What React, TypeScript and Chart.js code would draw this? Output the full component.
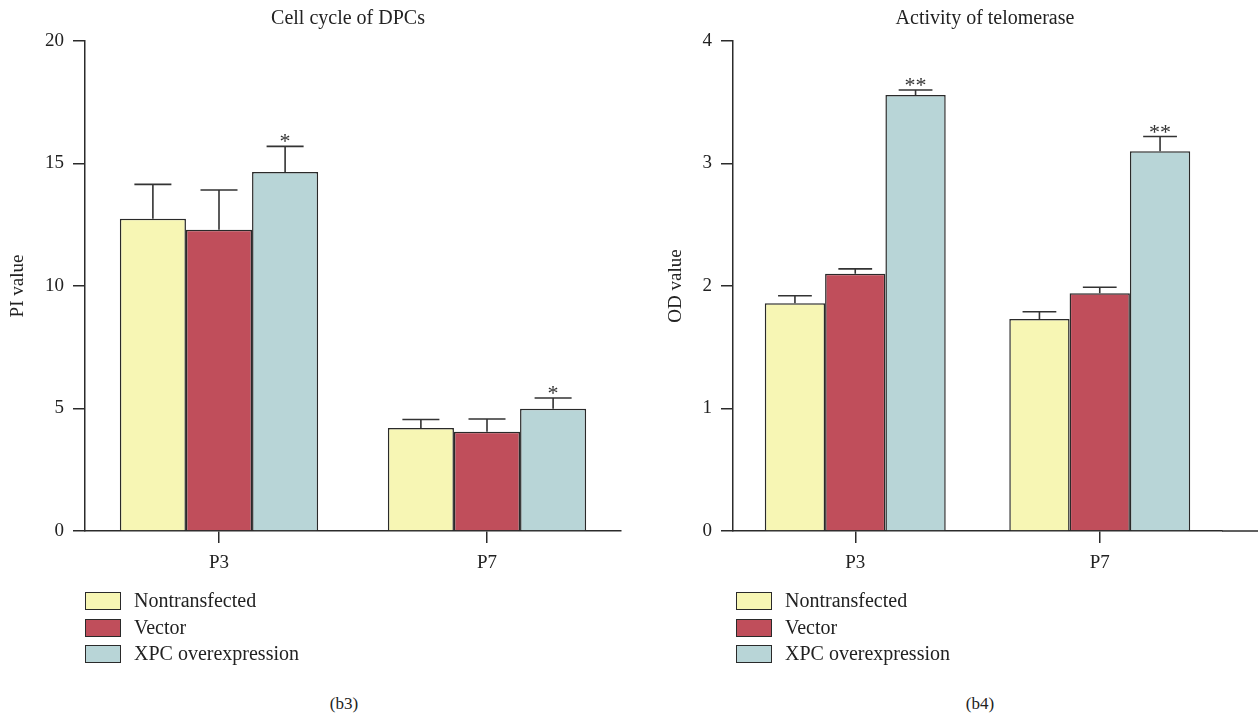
import React, { useEffect, useRef } from "react";
import { Chart, registerables } from "chart.js";

Chart.register(...registerables);

const FONT = "'Liberation Serif', 'Times New Roman', serif";

// ---- data ----
const categories = ["P3", "P7"];
const seriesNames = ["Nontransfected", "Vector", "XPC overexpression"];
const seriesColors = ["#f7f6b4", "#c04e5b", "#b8d5d7"];

// Cell cycle of DPCs (PI value)
const piNontransfected = [12.75, 4.2];
const piVector = [12.3, 4.05];
const piXpc = [14.65, 4.99];
const piErrNontransfected = [14.15, 4.55];
const piErrVector = [13.92, 4.57];
const piErrXpc = [15.7, 5.43];
const piStars = ["*", "*"];
const piTicks = [0, 5, 10, 15, 20];

// Activity of telomerase (OD value)
const odNontransfected = [1.86, 1.73];
const odVector = [2.1, 1.94];
const odXpc = [3.56, 3.1];
const odErrNontransfected = [1.92, 1.79];
const odErrVector = [2.14, 1.99];
const odErrXpc = [3.6, 3.22];
const odStars = ["**", "**"];
const odTicks = [0, 1, 2, 3, 4];

const errorBarPlugin = {
  id: "errorBars",
  afterDatasetsDraw(chart: any) {
    const ctx = chart.ctx;
    const yScale = chart.scales.y;
    chart.data.datasets.forEach((ds: any, di: number) => {
      const meta = chart.getDatasetMeta(di);
      meta.data.forEach((bar: any, i: number) => {
        const p = bar.getProps(["x", "y", "width"], true);
        const errPx = yScale.getPixelForValue(ds.errorTop[i]);
        const cw = p.width * 0.28;
        ctx.save();
        ctx.strokeStyle = "#333";
        ctx.lineWidth = 1.6;
        ctx.beginPath();
        ctx.moveTo(p.x, p.y);
        ctx.lineTo(p.x, errPx);
        ctx.moveTo(p.x - cw, errPx);
        ctx.lineTo(p.x + cw, errPx);
        ctx.stroke();
        const star: string | null = ds.stars ? ds.stars[i] : null;
        if (star) {
          ctx.fillStyle = "#333";
          ctx.font = `22px ${FONT}`;
          ctx.textAlign = "center";
          ctx.textBaseline = "alphabetic";
          const n = star.length;
          for (let k = 0; k < n; k++) {
            ctx.fillText(star[k], p.x + (k - (n - 1) / 2) * 11, errPx + 2);
          }
        }
        ctx.restore();
      });
    });
  },
};

const axisExtendPlugin = {
  id: "axisExtend",
  afterDraw(chart: any, _args: any, opts: any) {
    if (!opts || !opts.enabled) return;
    const { ctx, chartArea } = chart;
    ctx.save();
    ctx.strokeStyle = "#2b2b2b";
    ctx.lineWidth = 1.5;
    ctx.beginPath();
    ctx.moveTo(chartArea.right, chartArea.bottom);
    ctx.lineTo(chart.width, chartArea.bottom);
    ctx.stroke();
    ctx.restore();
  },
};

type PanelProps = {
  left: number;
  yTitle: string;
  yMax: number;
  yStep: number;
  ticks: number[];
  values: number[][];
  errors: number[][];
  stars: string[];
  padLeft: number;
  axisWidth: number;
  padRight: number;
  extend: boolean;
};

function Panel(props: PanelProps) {
  const ref = useRef<HTMLCanvasElement | null>(null);
  useEffect(() => {
    if (!ref.current) return;
    const datasets = seriesNames.map((name, si) => ({
      label: name,
      data: props.values[si],
      backgroundColor: seriesColors[si],
      borderColor: "#2a2a2a",
      borderWidth: 1.5,
      barPercentage: 1,
      categoryPercentage: 0.74,
      errorTop: props.errors[si],
      stars: si === 2 ? props.stars : null,
    }));
    const chart = new Chart(ref.current, {
      type: "bar",
      data: { labels: categories, datasets: datasets as any },
      plugins: [errorBarPlugin, axisExtendPlugin],
      options: {
        animation: false,
        responsive: false,
        layout: { padding: { left: props.padLeft, right: props.padRight, top: 41, bottom: 9 } },
        plugins: {
          legend: { display: false },
          title: { display: false },
          tooltip: { enabled: false },
          axisExtend: { enabled: props.extend },
        } as any,
        scales: {
          x: {
            type: "category",
            offset: true,
            grid: {
              display: true,
              offset: false,
              drawOnChartArea: false,
              drawTicks: true,
              tickLength: 12,
              color: "#2b2b2b",
              lineWidth: 1.5,
            },
            border: { display: true, color: "#2b2b2b", width: 1.5 },
            ticks: { font: { family: FONT, size: 19 }, color: "#222", padding: 9 },
            afterFit: (s: any) => {
              s.height = 60;
            },
          },
          y: {
            min: 0,
            max: props.yMax,
            afterBuildTicks: (s: any) => {
              s.ticks = props.ticks.map((v) => ({ value: v }));
            },
            grid: {
              display: true,
              drawOnChartArea: false,
              drawTicks: true,
              tickLength: 12,
              color: "#2b2b2b",
              lineWidth: 1.5,
            },
            border: { display: true, color: "#2b2b2b", width: 1.5 },
            ticks: { font: { family: FONT, size: 19 }, color: "#222", padding: 9, stepSize: props.yStep },
            title: {
              display: true,
              text: props.yTitle,
              font: { family: FONT, size: 19 },
              color: "#222",
              padding: { top: 4, bottom: 4 },
            },
            afterFit: (s: any) => {
              s.width = props.axisWidth;
            },
          },
        },
      } as any,
    });
    return () => chart.destroy();
  }, []);
  return (
    <canvas
      ref={ref}
      width={629}
      height={600}
      style={{ position: "absolute", left: props.left, top: 0, width: 629, height: 600 }}
    />
  );
}

function Legend({ left, textLeft }: { left: number; textLeft: number }) {
  const baselines = [608, 635, 661];
  return (
    <>
      {seriesNames.map((name, i) => (
        <React.Fragment key={name}>
          <div
            style={{
              position: "absolute",
              left,
              top: baselines[i] - 16,
              width: 34,
              height: 16,
              background: seriesColors[i],
              border: "1.5px solid #2a2a2a",
            }}
          />
          <div
            style={{
              position: "absolute",
              left: textLeft,
              top: baselines[i] - 18,
              fontFamily: FONT,
              fontSize: 20,
              lineHeight: "20px",
              color: "#222",
              whiteSpace: "nowrap",
            }}
          >
            {name}
          </div>
        </React.Fragment>
      ))}
    </>
  );
}

function CenterText({ cx, top, size, text }: { cx: number; top: number; size: number; text: string }) {
  return (
    <div
      style={{
        position: "absolute",
        left: cx - 200,
        width: 400,
        top,
        textAlign: "center",
        fontFamily: FONT,
        fontSize: size,
        lineHeight: `${size}px`,
        color: "#222",
        whiteSpace: "nowrap",
      }}
    >
      {text}
    </div>
  );
}

export default function App() {
  return (
    <div style={{ position: "absolute", left: 0, top: 0, width: 1258, height: 716, background: "#fff", overflow: "hidden" }}>
      <Panel
        left={0}
        yTitle="PI value"
        yMax={20}
        yStep={5}
        ticks={piTicks}
        values={[piNontransfected, piVector, piXpc]}
        errors={[piErrNontransfected, piErrVector, piErrXpc]}
        stars={piStars}
        padLeft={3}
        axisWidth={82}
        padRight={8}
        extend={false}
      />
      <Panel
        left={629}
        yTitle="OD value"
        yMax={4}
        yStep={1}
        ticks={odTicks}
        values={[odNontransfected, odVector, odXpc]}
        errors={[odErrNontransfected, odErrVector, odErrXpc]}
        stars={odStars}
        padLeft={32}
        axisWidth={72}
        padRight={36}
        extend={true}
      />
      <CenterText cx={348} top={7} size={20} text="Cell cycle of DPCs" />
      <CenterText cx={985} top={7} size={20} text="Activity of telomerase" />
      <Legend left={85} textLeft={134} />
      <Legend left={736} textLeft={785} />
      <CenterText cx={344} top={695} size={17} text="(b3)" />
      <CenterText cx={980} top={695} size={17} text="(b4)" />
    </div>
  );
}
